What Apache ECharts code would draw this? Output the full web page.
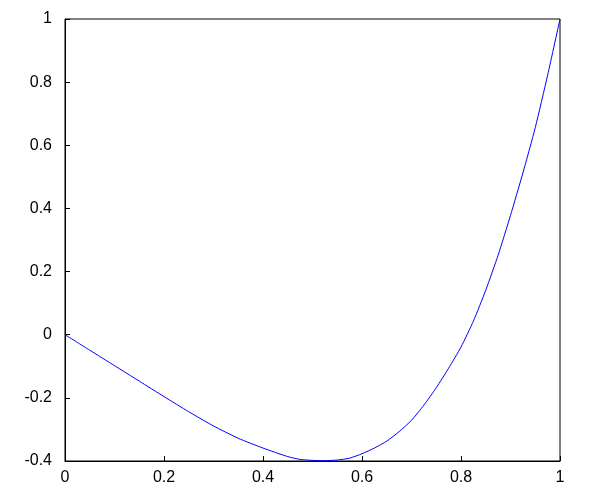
<!DOCTYPE html>
<html>
<head>
<meta charset="utf-8">
<script src="https://cdn.jsdelivr.net/npm/echarts@6/dist/echarts.min.js"></script>
<style>html,body{margin:0;padding:0;background:#fff}#c{width:600px;height:500px}</style>
</head>
<body>
<div id="c"></div>
<script>
var xValues = [0, 0.05, 0.1, 0.15, 0.2, 0.25, 0.3, 0.35, 0.4, 0.45, 0.475, 0.5, 0.525, 0.55, 0.575, 0.6, 0.625, 0.65, 0.675, 0.7, 0.725, 0.75, 0.775, 0.8, 0.825, 0.85, 0.875, 0.9, 0.925, 0.95, 0.975, 1];
var yValues = [0, -0.049, -0.098, -0.147, -0.196, -0.244, -0.289, -0.328, -0.359, -0.386, -0.395, -0.398, -0.399, -0.397, -0.391, -0.377, -0.359, -0.337, -0.307, -0.271, -0.223, -0.168, -0.106, -0.039, 0.043, 0.141, 0.252, 0.378, 0.512, 0.656, 0.822, 1];
var xTicks = [0, 0.2, 0.4, 0.6, 0.8, 1];
var yTicks = [-0.4, -0.2, 0, 0.2, 0.4, 0.6, 0.8, 1];

var data = xValues.map(function (x, i) { return [x, yValues[i]]; });
var font = 'Liberation Sans';
var fmt = function (v) { return String(Math.round(v * 10) / 10); };
var chart = echarts.init(document.getElementById('c'), null, {renderer: 'canvas'});
chart.setOption({
  animation: false,
  grid: {left: 65, right: 40, top: 19, bottom: 39, show: true, borderColor: '#000', borderWidth: 1, backgroundColor: 'transparent'},
  xAxis: {
    type: 'value', min: xTicks[0], max: xTicks[xTicks.length - 1], interval: 0.2,
    axisLine: {onZero: false, lineStyle: {color: '#000', width: 1}},
    axisTick: {inside: true, length: 5, lineStyle: {color: '#000'}},
    splitLine: {show: false},
    axisLabel: {color: '#000', fontFamily: font, fontSize: 16, margin: 9, formatter: fmt}
  },
  yAxis: {
    type: 'value', min: yTicks[0], max: yTicks[yTicks.length - 1], interval: 0.2,
    axisLine: {onZero: false, lineStyle: {color: '#000', width: 1}},
    axisTick: {inside: true, length: 5, lineStyle: {color: '#000'}},
    splitLine: {show: false},
    axisLabel: {color: '#000', fontFamily: font, fontSize: 16, margin: 13, formatter: fmt}
  },
  series: [{
    type: 'line', data: data, showSymbol: false, smooth: 0.2,
    lineStyle: {color: '#0000ff', width: 1}
  }]
});
</script>
</body>
</html>
